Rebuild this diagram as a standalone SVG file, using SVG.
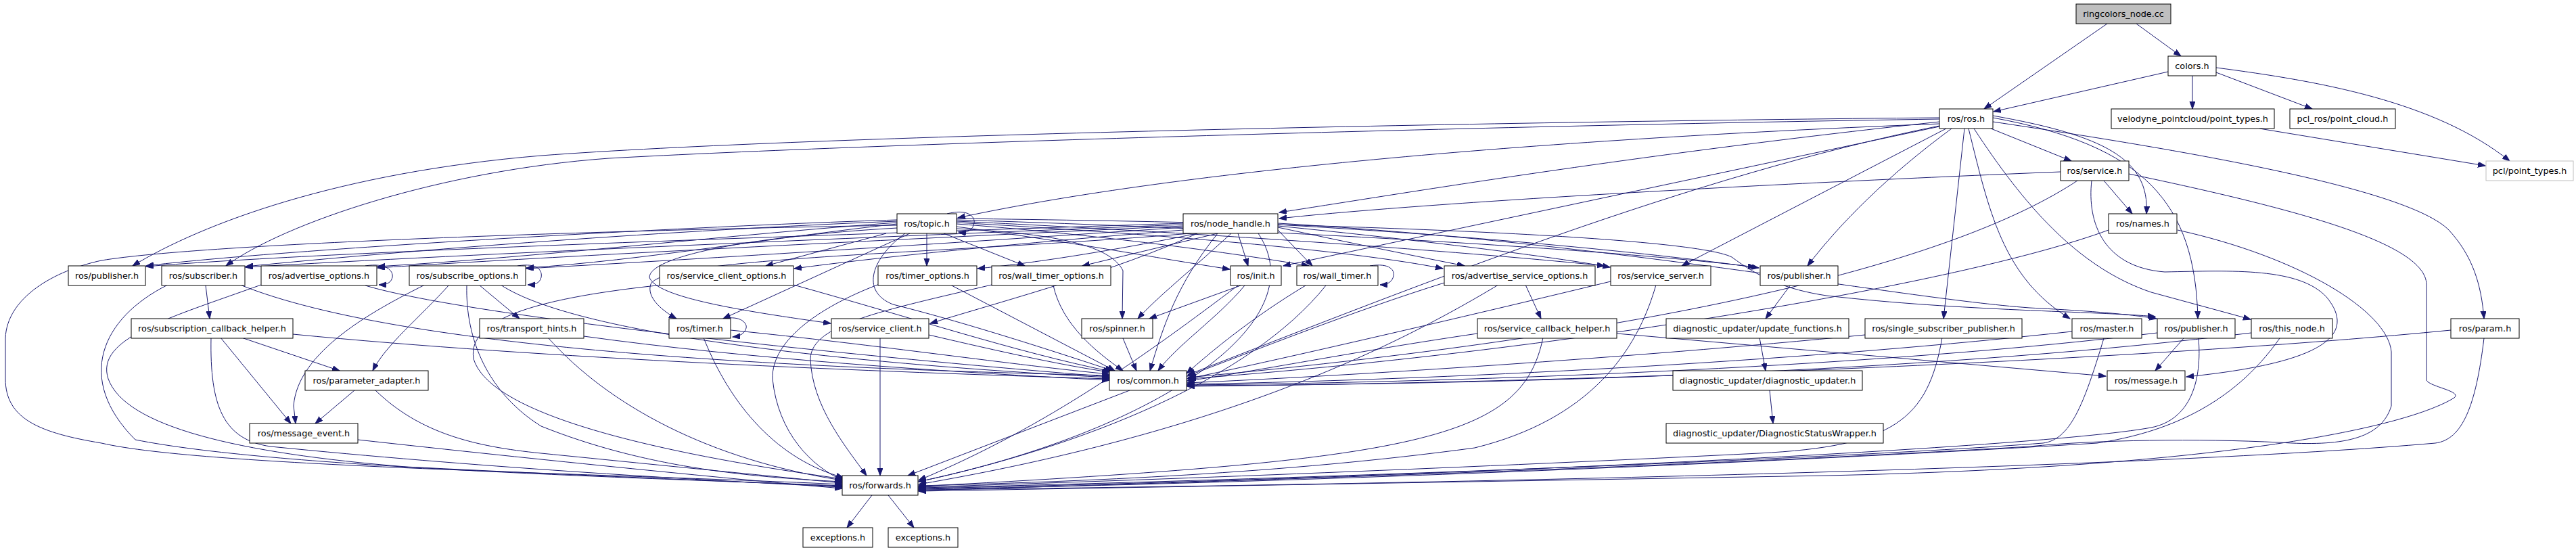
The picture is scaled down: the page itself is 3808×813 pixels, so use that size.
<svg xmlns="http://www.w3.org/2000/svg" width="3808" height="813" viewBox="0 0 3808 813">
<style>
.n rect{fill:#fff;stroke:#000;stroke-width:1}
.n text{font-family:"DejaVu Sans",sans-serif;font-size:12.8px;text-anchor:middle;fill:#000}
#edges path{fill:none;stroke:#191970;stroke-width:1;marker-end:url(#a)}
</style>
<defs>
<marker id="a" markerWidth="12" markerHeight="9" refX="11" refY="4" orient="auto" markerUnits="userSpaceOnUse"><path d="M0,0 L11,4 L0,8 z" fill="#191970" stroke="#191970" stroke-width="1"/></marker>
</defs>
<rect width="3808" height="813" fill="#fff"/>
<g id="edges">
<path d="M3115,35 L2933,161"/>
<path d="M3158,35 L3224,83"/>
<path d="M3205,106 L2947,165"/>
<path d="M3241,112 L3241,161"/>
<path d="M3276,107 L3418,161"/>
<path d="M3276,100 C3430,120 3600,150 3710,238"/>
<path d="M3340,190 L3674,245"/>
<path d="M2943,190 L3062,238"/>
<path d="M2946,171 C3110,200 3178,235 3173,316"/>
<path d="M2946,174 C3170,215 3245,300 3249,471"/>
<path d="M2946,180 C3250,225 3560,280 3620,340 C3655,378 3668,420 3672,471"/>
<path d="M2918,190 C2990,300 3070,395 3180,432 L3327,472"/>
<path d="M2910,190 C2940,310 2960,410 3060,471"/>
<path d="M2904,190 L2873,471"/>
<path d="M2885,190 C2790,260 2720,330 2672,393"/>
<path d="M2877,190 L2486,393"/>
<path d="M2867,180 C2400,230 2050,290 1891,314"/>
<path d="M2867,183 C2300,205 1750,250 1416,322"/>
<path d="M2867,174 C2200,180 1200,200 800,230 C500,255 300,330 196,393"/>
<path d="M2867,176 C2200,186 1300,212 900,234 C650,252 420,330 334,393"/>
<path d="M2867,187 L1897,393"/>
<path d="M2867,186 C2500,260 2100,420 1756,554"/>
<path d="M3046,254 C2600,272 2100,300 1891,323"/>
<path d="M3110,267 L3152,316"/>
<path d="M3071,267 C2900,380 2500,490 1756,558"/>
<path d="M3147,257 C3400,310 3585,360 3587,420 L3587,562 C3592,572 3640,578 3628,588 C3560,630 3300,690 2700,703 L1358,726"/>
<path d="M3092,267 C3085,330 3110,395 3200,402 C3300,400 3400,395 3440,440 C3480,490 3450,535 3232,557"/>
<path d="M3117,340 C2900,420 2300,520 1757,560"/>
<path d="M3219,340 C3400,380 3530,460 3535,520 L3535,600 C3520,650 3460,660 3370,654 C3250,648 3100,650 3000,660 C2500,690 1800,712 1358,725"/>
<path d="M1749,330 C1300,345 500,370 216,394"/>
<path d="M1749,332 C1300,350 700,375 363,395"/>
<path d="M1749,334 C1300,355 800,380 558,396"/>
<path d="M1749,336 C1400,360 1000,385 778,397"/>
<path d="M1749,340 C1500,360 1300,380 1174,397"/>
<path d="M1770,345 C1650,370 1520,390 1445,397"/>
<path d="M1800,345 L1600,393"/>
<path d="M1830,345 L1845,393"/>
<path d="M1760,345 C1400,375 980,380 962,420 C955,440 980,460 1000,471"/>
<path d="M1770,345 C1650,400 1500,440 1375,478"/>
<path d="M1820,345 C1760,400 1710,440 1682,471"/>
<path d="M1889,340 L1940,393"/>
<path d="M1889,336 C2000,360 2100,380 2165,393"/>
<path d="M1889,334 C2100,355 2300,380 2380,395"/>
<path d="M1889,332 C2200,350 2450,375 2600,396"/>
<path d="M1889,330 C2400,360 2800,440 3000,455 C3100,460 3150,465 3188,471"/>
<path d="M1800,345 C1740,420 1720,480 1700,548"/>
<path d="M1860,345 C1950,480 1700,640 1358,712"/>
<path d="M1400,316 C1430,308 1442,320 1440,330 C1438,340 1430,345 1417,343"/>
<path d="M1326,325 C1000,335 400,370 216,393"/>
<path d="M1326,327 C1000,340 600,370 363,394"/>
<path d="M1326,329 C1100,345 800,380 558,394"/>
<path d="M1326,331 C1150,350 950,385 778,396"/>
<path d="M1310,345 L1132,393"/>
<path d="M1370,345 L1370,393"/>
<path d="M1395,345 L1515,393"/>
<path d="M1414,335 C1600,360 1700,380 1818,398"/>
<path d="M1345,345 L1069,471"/>
<path d="M1326,337 C1100,350 960,380 960,410 C970,440 1100,460 1228,478"/>
<path d="M1414,338 C1550,345 1640,360 1660,400 L1659,471"/>
<path d="M1414,331 C1600,345 1800,370 1935,393"/>
<path d="M1414,329 C1700,345 2000,370 2133,397"/>
<path d="M1414,327 C1800,345 2200,375 2372,393"/>
<path d="M1414,325 C1900,340 2400,370 2595,395"/>
<path d="M1414,323 C2000,330 2500,350 2560,380 C2600,410 2640,428 2700,437 C2900,460 3100,460 3186,468"/>
<path d="M1338,345 C1290,380 1270,430 1320,450 C1400,470 1500,500 1645,548"/>
<path d="M1326,333 C900,340 300,360 150,385 C80,400 10,440 8,500 L8,560 C8,620 60,640 150,655 C300,690 900,700 1245,716"/>
<path d="M304,422 L310,471"/>
<path d="M248,421 C150,470 110,560 200,650 C400,690 900,705 1245,718"/>
<path d="M355,421 C600,520 1200,545 1640,555"/>
<path d="M540,393 C570,388 582,400 580,410 C578,418 572,421 560,421"/>
<path d="M386,421 C250,470 140,500 160,560 C185,630 350,670 600,690 C900,705 1100,712 1245,719"/>
<path d="M540,422 C700,470 1300,530 1640,557"/>
<path d="M765,393 C795,388 802,400 800,410 C798,418 792,421 780,421"/>
<path d="M628,421 C550,460 440,520 434,600 L437,626"/>
<path d="M664,421 C620,470 570,510 551,548"/>
<path d="M708,421 L768,471"/>
<path d="M690,422 C688,500 720,580 800,630 C950,690 1100,705 1245,712"/>
<path d="M740,421 C860,500 1300,540 1640,558"/>
<path d="M433,494 C800,530 1300,550 1640,560"/>
<path d="M357,499 L502,548"/>
<path d="M326,499 L430,626"/>
<path d="M312,499 C310,600 330,650 400,660 C700,690 1000,708 1245,720"/>
<path d="M524,577 L466,626"/>
<path d="M555,577 C620,640 700,660 800,670 C1000,690 1150,705 1245,714"/>
<path d="M529,650 C800,680 1100,710 1245,722"/>
<path d="M863,497 C1100,530 1400,550 1640,562"/>
<path d="M810,499 C900,600 1050,680 1245,710"/>
<path d="M1173,421 C1350,470 1500,520 1642,549"/>
<path d="M980,421 C800,440 690,470 700,530 C720,600 900,660 1246,708"/>
<path d="M1405,421 L1648,548"/>
<path d="M1300,420 C1220,450 1140,500 1142,560 C1150,640 1200,690 1246,710"/>
<path d="M1557,422 C1570,480 1620,520 1660,548"/>
<path d="M1466,421 C1300,460 1200,480 1198,530 C1200,600 1250,660 1281,703"/>
<path d="M1840,422 C1800,470 1740,510 1712,548"/>
<path d="M1830,422 C1700,520 1550,630 1358,710"/>
<path d="M1834,422 L1699,471"/>
<path d="M1070,471 C1095,466 1105,478 1103,485 C1101,492 1095,497 1083,498"/>
<path d="M1080,488 C1300,510 1500,540 1640,553"/>
<path d="M1040,499 C1080,600 1150,680 1247,706"/>
<path d="M1373,495 C1480,520 1570,540 1640,550"/>
<path d="M1301,499 L1301,703"/>
<path d="M1660,500 L1680,548"/>
<path d="M1670,577 L1342,703"/>
<path d="M1289,732 L1252,780"/>
<path d="M1313,732 L1351,780"/>
<path d="M2025,393 C2055,388 2062,400 2060,408 C2058,416 2052,421 2040,421"/>
<path d="M1930,422 C1850,470 1790,520 1754,552"/>
<path d="M1960,422 C1850,560 1600,660 1358,712"/>
<path d="M2255,421 L2278,471"/>
<path d="M2135,418 C2000,460 1850,520 1755,556"/>
<path d="M2215,421 C2050,520 1800,640 1358,716"/>
<path d="M2381,416 C2200,460 1900,530 1755,560"/>
<path d="M2448,421 C2420,520 2350,620 2180,662 C1900,700 1600,712 1358,718"/>
<path d="M2184,493 C2000,520 1850,550 1755,563"/>
<path d="M2281,499 C2250,650 2100,680 1358,719"/>
<path d="M2390,493 L3113,556"/>
<path d="M2647,421 L2610,471"/>
<path d="M2601,499 L2610,548"/>
<path d="M2616,577 L2621,626"/>
<path d="M2757,495 C2400,530 2000,555 1755,566"/>
<path d="M2871,499 C2850,620 2800,660 2600,670 C2200,690 1700,710 1358,720"/>
<path d="M3063,490 C2700,530 2200,560 1755,568"/>
<path d="M3110,500 C3080,600 3060,650 3020,655 C2700,680 1800,712 1358,721"/>
<path d="M3189,492 C2800,540 2200,565 1755,569"/>
<path d="M3228,500 L3186,548"/>
<path d="M3250,500 C3255,560 3240,620 3180,632 C3000,665 2000,710 1358,722"/>
<path d="M3328,492 C2900,545 2300,568 1755,570"/>
<path d="M3370,500 C3300,600 3200,640 3100,655 C2700,680 1900,715 1358,723"/>
<path d="M3623,488 C3200,530 2400,565 1755,571"/>
<path d="M3672,500 C3660,600 3640,650 3600,655 C3200,690 2200,715 1358,724"/>
</g>
<g id="n0" class="n"><rect x="3069" y="6" width="140" height="29" style="fill:#bfbfbf"/><text x="3139" y="25">ringcolors_node.cc</text></g>
<g id="n1" class="n"><rect x="3205" y="83" width="71" height="29"/><text x="3240.5" y="102">colors.h</text></g>
<g id="n2" class="n"><rect x="2867" y="161" width="79" height="29"/><text x="2906.5" y="180">ros/ros.h</text></g>
<g id="n3" class="n"><rect x="3121" y="161" width="241" height="29"/><text x="3241.5" y="180">velodyne_pointcloud/point_types.h</text></g>
<g id="n4" class="n"><rect x="3385" y="161" width="156" height="29"/><text x="3463" y="180">pcl_ros/point_cloud.h</text></g>
<g id="n5" class="n"><rect x="3675" y="238" width="129" height="29" style="stroke:#bfbfbf"/><text x="3739.5" y="257">pcl/point_types.h</text></g>
<g id="n6" class="n"><rect x="3046" y="238" width="101" height="29"/><text x="3096.5" y="257">ros/service.h</text></g>
<g id="n7" class="n"><rect x="1326" y="316" width="88" height="29"/><text x="1370" y="335">ros/topic.h</text></g>
<g id="n8" class="n"><rect x="1749" y="316" width="140" height="29"/><text x="1819" y="335">ros/node_handle.h</text></g>
<g id="n9" class="n"><rect x="3117" y="316" width="101" height="29"/><text x="3167.5" y="335">ros/names.h</text></g>
<g id="n10" class="n"><rect x="101" y="393" width="114" height="29"/><text x="158" y="412">ros/publisher.h</text></g>
<g id="n11" class="n"><rect x="239" y="393" width="123" height="29"/><text x="300.5" y="412">ros/subscriber.h</text></g>
<g id="n12" class="n"><rect x="386" y="393" width="171" height="29"/><text x="471.5" y="412">ros/advertise_options.h</text></g>
<g id="n13" class="n"><rect x="605" y="393" width="172" height="29"/><text x="691" y="412">ros/subscribe_options.h</text></g>
<g id="n14" class="n"><rect x="975" y="393" width="198" height="29"/><text x="1074" y="412">ros/service_client_options.h</text></g>
<g id="n15" class="n"><rect x="1298" y="393" width="146" height="29"/><text x="1371" y="412">ros/timer_options.h</text></g>
<g id="n16" class="n"><rect x="1466" y="393" width="176" height="29"/><text x="1554" y="412">ros/wall_timer_options.h</text></g>
<g id="n17" class="n"><rect x="1819" y="393" width="75" height="29"/><text x="1856.5" y="412">ros/init.h</text></g>
<g id="n18" class="n"><rect x="1917" y="393" width="120" height="29"/><text x="1977" y="412">ros/wall_timer.h</text></g>
<g id="n19" class="n"><rect x="2135" y="393" width="223" height="29"/><text x="2246.5" y="412">ros/advertise_service_options.h</text></g>
<g id="n20" class="n"><rect x="2381" y="393" width="148" height="29"/><text x="2455" y="412">ros/service_server.h</text></g>
<g id="n21" class="n"><rect x="2602" y="393" width="115" height="29"/><text x="2659.5" y="412">ros/publisher.h</text></g>
<g id="n22" class="n"><rect x="194" y="471" width="239" height="29"/><text x="313.5" y="490">ros/subscription_callback_helper.h</text></g>
<g id="n23" class="n"><rect x="709" y="471" width="154" height="29"/><text x="786" y="490">ros/transport_hints.h</text></g>
<g id="n24" class="n"><rect x="989" y="471" width="91" height="29"/><text x="1034.5" y="490">ros/timer.h</text></g>
<g id="n25" class="n"><rect x="1229" y="471" width="144" height="29"/><text x="1301" y="490">ros/service_client.h</text></g>
<g id="n26" class="n"><rect x="1599" y="471" width="105" height="29"/><text x="1651.5" y="490">ros/spinner.h</text></g>
<g id="n27" class="n"><rect x="2184" y="471" width="206" height="29"/><text x="2287" y="490">ros/service_callback_helper.h</text></g>
<g id="n28" class="n"><rect x="2463" y="471" width="270" height="29"/><text x="2598" y="490">diagnostic_updater/update_functions.h</text></g>
<g id="n29" class="n"><rect x="2757" y="471" width="232" height="29"/><text x="2873" y="490">ros/single_subscriber_publisher.h</text></g>
<g id="n30" class="n"><rect x="3063" y="471" width="103" height="29"/><text x="3114.5" y="490">ros/master.h</text></g>
<g id="n31" class="n"><rect x="3189" y="471" width="115" height="29"/><text x="3246.5" y="490">ros/publisher.h</text></g>
<g id="n32" class="n"><rect x="3328" y="471" width="120" height="29"/><text x="3388" y="490">ros/this_node.h</text></g>
<g id="n33" class="n"><rect x="3623" y="471" width="101" height="29"/><text x="3673.5" y="490">ros/param.h</text></g>
<g id="n34" class="n"><rect x="451" y="548" width="182" height="29"/><text x="542" y="567">ros/parameter_adapter.h</text></g>
<g id="n35" class="n"><rect x="1640" y="548" width="114" height="29"/><text x="1697" y="567">ros/common.h</text></g>
<g id="n36" class="n"><rect x="2473" y="548" width="280" height="29"/><text x="2613" y="567">diagnostic_updater/diagnostic_updater.h</text></g>
<g id="n37" class="n"><rect x="3115" y="548" width="115" height="29"/><text x="3172.5" y="567">ros/message.h</text></g>
<g id="n38" class="n"><rect x="369" y="626" width="160" height="29"/><text x="449" y="645">ros/message_event.h</text></g>
<g id="n39" class="n"><rect x="2463" y="626" width="321" height="29"/><text x="2623.5" y="645">diagnostic_updater/DiagnosticStatusWrapper.h</text></g>
<g id="n40" class="n"><rect x="1245" y="703" width="112" height="29"/><text x="1301" y="722">ros/forwards.h</text></g>
<g id="n41" class="n"><rect x="1187" y="780" width="103" height="29"/><text x="1238.5" y="799">exceptions.h</text></g>
<g id="n42" class="n"><rect x="1313" y="780" width="103" height="29"/><text x="1364.5" y="799">exceptions.h</text></g>
</svg>
